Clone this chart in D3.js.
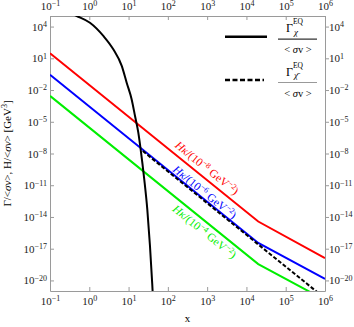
<!DOCTYPE html>
<html>
<head>
<meta charset="utf-8">
<script src="https://cdn.jsdelivr.net/npm/d3@7"></script>
<style>
  body { margin: 0; background: #fff; }
  text { font-family: "Liberation Serif", "Times New Roman", serif; }
</style>
</head>
<body>
<svg id="chart" width="354" height="327"></svg>
<script>
// tick values
const xTicks = [1e-1, 1e0, 1e1, 1e2, 1e3, 1e4, 1e5, 1e6];
const yTicks = [1e4, 1e1, 1e-2, 1e-5, 1e-8, 1e-11, 1e-14, 1e-17, 1e-20];

// H kappa / <sigma v> lines (break at x ~ 2e4)
const hX = [0.1, 2e4, 1e6];
const hRed = [30, 3.7e-15, 1.3e-18];     // 1e-8 GeV^-2
const hBlue = [0.28, 3.5e-17, 1.4e-20];  // 1e-6 GeV^-2
const hGreen = [2.8e-3, 3.5e-19, 1.4e-22]; // 1e-4 GeV^-2

// Gamma_chi^EQ / <sigma v>
const eqX = [0.3, 0.48, 1.04, 2.28, 4.08, 6.7, 8.95, 12.0, 14.6, 17.7, 20.3, 25, 30, 35, 40, 45];
const eqY = [2.2e5, 1e5, 2.3e4, 1.3e3, 71, 1.9, 0.049, 1.3e-3, 3.5e-5, 9.3e-7, 2.5e-8, 4e-11, 5e-14, 2e-17, 5e-21, 1e-24];

// Gamma_chibar^EQ / <sigma v>
const barX = [23, 1e6];
const barY = [1.7e-8, 2e-22];

const svg = d3.select("#chart");
const margin = {top: 16, right: 29, bottom: 36, left: 50};
const W = 354, H = 327;

const x = d3.scaleLog().domain([1e-1, 1e6]).range([margin.left, W - margin.right]);
const y = d3.scaleLog().domain([1e-21, 1e5]).range([H - margin.bottom, margin.top]);

const frameColor = "#9a9a9a";

svg.append("clipPath").attr("id", "clip")
  .append("rect")
  .attr("x", margin.left).attr("y", margin.top)
  .attr("width", W - margin.left - margin.right)
  .attr("height", H - margin.top - margin.bottom);

function expText(e) {
  return e < 0 ? "\u2212" + (-e) : String(e);
}

function powerLabels(g) {
  g.selectAll(".tick text").each(function(d) {
    const t = d3.select(this);
    const e = Math.round(Math.log10(d));
    t.text(null);
    t.append("tspan").text("10");
    t.append("tspan").attr("dy", "-0.45em").attr("font-size", "8px").text(expText(e));
  });
}

function styleAxis(g) {
  g.attr("font-family", null).attr("font-size", null);
  g.select(".domain").attr("stroke", frameColor);
  g.selectAll(".tick line").attr("stroke", frameColor);
  g.selectAll(".tick text").attr("fill", "#222").style("font-size", "11px");
  powerLabels(g);
}

const bottomAxis = svg.append("g").attr("transform", "translate(0," + (H - margin.bottom) + ")")
  .call(d3.axisBottom(x).tickValues(xTicks).tickSizeInner(-4).tickSizeOuter(0).tickPadding(6));
styleAxis(bottomAxis);

const topAxis = svg.append("g").attr("transform", "translate(0," + margin.top + ")")
  .call(d3.axisTop(x).tickValues(xTicks).tickSizeInner(-4).tickSizeOuter(0).tickPadding(6));
styleAxis(topAxis);

const leftAxis = svg.append("g").attr("transform", "translate(" + margin.left + ",0)")
  .call(d3.axisLeft(y).tickValues(yTicks).tickSizeInner(-4).tickSizeOuter(0).tickPadding(3));
styleAxis(leftAxis);

const rightAxis = svg.append("g").attr("transform", "translate(" + (W - margin.right) + ",0)")
  .call(d3.axisRight(y).tickValues(yTicks).tickSizeInner(4).tickSizeOuter(0).tickPadding(0));
styleAxis(rightAxis);

// curves
const plot = svg.append("g").attr("clip-path", "url(#clip)");

const line = d3.line().x(d => x(d[0])).y(d => y(d[1]));
const smooth = d3.line().x(d => x(d[0])).y(d => y(d[1])).curve(d3.curveMonotoneX);

[[hRed, "#ff0000"], [hBlue, "#0000ff"], [hGreen, "#00ee00"]].forEach(function(s) {
  plot.append("path")
    .datum(d3.zip(hX, s[0]))
    .attr("d", line)
    .attr("fill", "none")
    .attr("stroke", s[1])
    .attr("stroke-width", 2);
});

plot.append("path")
  .datum(d3.zip(barX, barY))
  .attr("d", line)
  .attr("fill", "none")
  .attr("stroke", "#000")
  .attr("stroke-width", 2)
  .attr("stroke-dasharray", "4,2");

plot.append("path")
  .datum(d3.zip(eqX, eqY))
  .attr("d", smooth)
  .attr("fill", "none")
  .attr("stroke", "#000")
  .attr("stroke-width", 2);

// labels along the H lines
const angle = Math.atan2(y(hRed[1]) - y(hRed[0]), x(hX[1]) - x(hX[0])) * 180 / Math.PI;

function lineLabel(vals, xAt, off, exp, color) {
  const yAt = Math.exp(d3.scaleLinear().domain([Math.log(hX[0]), Math.log(hX[1])])
    .range([Math.log(vals[0]), Math.log(vals[1])])(Math.log(xAt)));
  const t = svg.append("text")
    .attr("transform", "translate(" + x(xAt) + "," + y(yAt) + ") rotate(" + angle + ")")
    .attr("text-anchor", "middle")
    .attr("dy", off)
    .attr("fill", color)
    .style("font-size", "11.5px");
  t.append("tspan").attr("font-style", "italic").text("H\u03BA");
  t.append("tspan").text("/(10");
  t.append("tspan").attr("dy", "-4").attr("font-size", "8px").text(exp);
  t.append("tspan").attr("dy", "4").text(" GeV");
  t.append("tspan").attr("dy", "-4").attr("font-size", "8px").text("\u22122");
  t.append("tspan").attr("dy", "4").text(")");
}
lineLabel(hRed, 10 ** (-1 + (201 - 50) / 39.29), -5.5, "\u22128", "#ff0000");
lineLabel(hBlue, 10 ** (-1 + (201 - 50) / 39.29), -2, "\u22126", "#0000ff");
lineLabel(hGreen, 10 ** (-1 + (210 - 50) / 39.29), 12.5, "\u22124", "#00ee00");

// axis titles
svg.append("text")
  .attr("x", (margin.left + W - margin.right) / 2)
  .attr("y", 322)
  .attr("text-anchor", "middle")
  .style("font-size", "11px")
  .text("x");

const yl = svg.append("text")
  .attr("transform", "translate(11," + ((margin.top + H - margin.bottom) / 2) + ") rotate(-90)")
  .attr("text-anchor", "middle")
  .style("font-size", "11px");
yl.append("tspan").text("\u0393/<");
yl.append("tspan").attr("font-style", "italic").text("\u03C3v");
yl.append("tspan").text(">, H/<");
yl.append("tspan").attr("font-style", "italic").text("\u03C3v");
yl.append("tspan").text("> [GeV");
yl.append("tspan").attr("dy", "-4").attr("font-size", "8px").text("3");
yl.append("tspan").attr("dy", "4").text("]");

// legend
const legend = svg.append("g");
function legendEntry(ly, dash, chi, barColor) {
  legend.append("line")
    .attr("x1", 225).attr("x2", dash ? 264 : 267)
    .attr("y1", ly).attr("y2", ly)
    .attr("stroke", "#000").attr("stroke-width", 2.5)
    .attr("stroke-dasharray", dash ? "5,2.5" : null);
  const num = legend.append("text")
    .attr("x", 286).attr("y", ly - 4.5)
    .style("font-size", "12px");
  num.append("tspan").text("\u0393");
  num.append("tspan").attr("dy", "-8").attr("font-size", "7.5px").text("EQ");
  num.append("tspan").attr("x", 294).attr("dy", "10.5").attr("font-size", "9px")
    .attr("font-style", "italic").text(chi);
  legend.append("line")
    .attr("x1", 278).attr("x2", 317)
    .attr("y1", ly + 2.5).attr("y2", ly + 2.5)
    .attr("stroke", barColor).attr("stroke-width", 1.2);
  const den = legend.append("text")
    .attr("x", 298).attr("y", ly + 16.5)
    .attr("text-anchor", "middle")
    .style("font-size", "10.5px");
  den.append("tspan").text("< ");
  den.append("tspan").attr("font-style", "italic").text("\u03C3");
  den.append("tspan").text("v >");
}
legendEntry(36.7, false, "\u03C7", "#333");
legendEntry(80, true, "\u03C7\u0304", "#999");
</script>
</body>
</html>
